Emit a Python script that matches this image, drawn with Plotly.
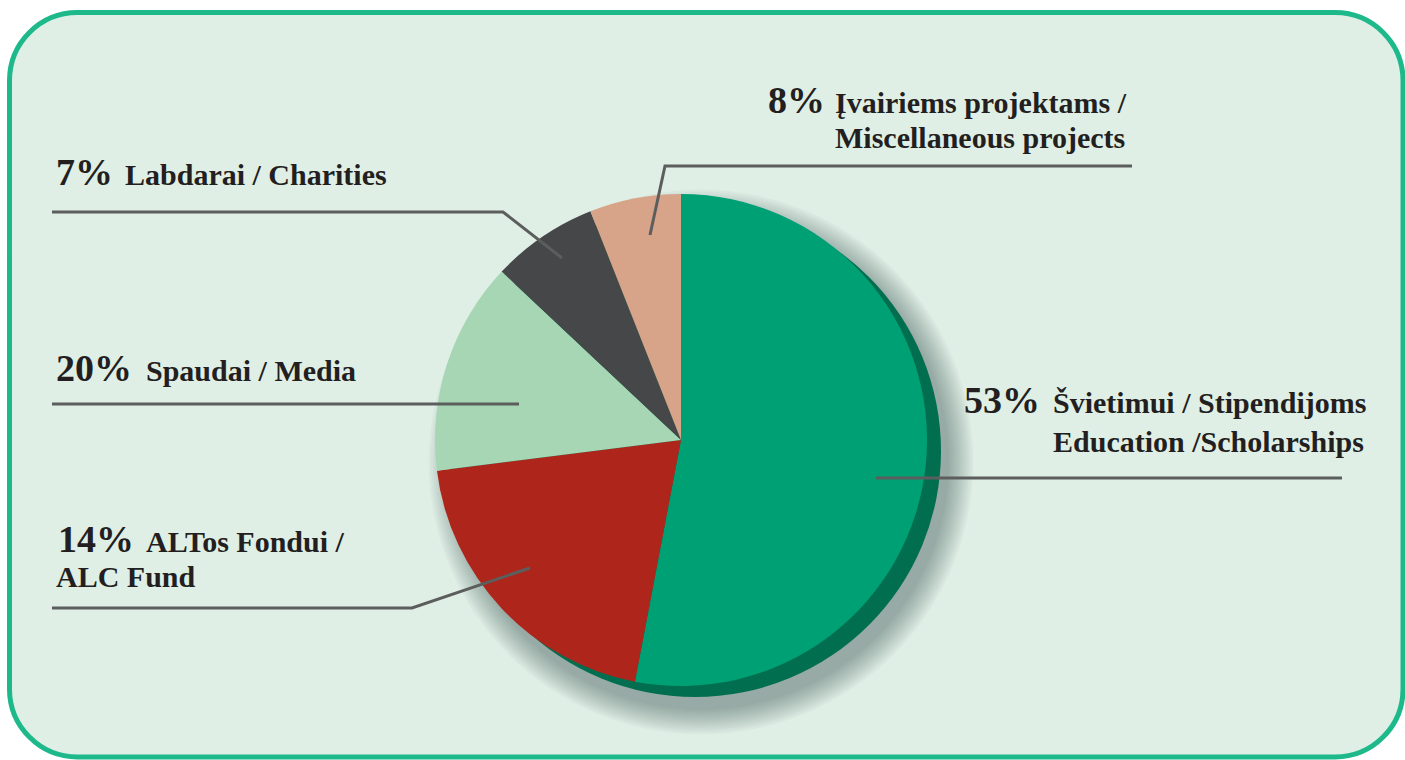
import math
import plotly.graph_objects as go

# ---------------- data ----------------
categories = [
    "Švietimui / Stipendijoms",
    "ALTos Fondui / ALC Fund",
    "Spaudai / Media",
    "Labdarai / Charities",
    "Įvairiems projektams / Miscellaneous projects",
]
slice_values = [53, 20, 14, 7, 6]          # slice sizes as drawn
label_pcts = ["53%", "14%", "20%", "7%", "8%"]   # printed label numbers
label_lines = [
    ["Švietimui / Stipendijoms", "Education /Scholarships"],
    ["ALTos Fondui /", "ALC Fund"],
    ["Spaudai / Media"],
    ["Labdarai / Charities"],
    ["Įvairiems projektams /", "Miscellaneous projects"],
]

# ---------------- style / layout ----------------
slice_colors = ["#00a075", "#ae261b", "#a6d6b3", "#464749", "#d8a489"]
W, H = 1405, 760
CX, CY, R = 681, 440, 246          # pie centre / radius (px)
SH_DX, SH_DY = 14, 11              # dark rim offset
BG = "#e0efe6"
BORDER = "#1db98b"
TEXT = "#231f20"
LINE = "#5c5e5e"
FONT = "Liberation Serif"
PCT_SIZE, TXT_SIZE = 38, 30

# label placement (px): pct x, text x per line, baselines, leader polyline
label_layout = [
    dict(px=963, tx=[1052, 1052], base=[413, 452], leader=[(876, 478), (1342, 478)]),
    dict(px=57, tx=[145, 55], base=[552, 587], leader=[(530, 568), (412, 608), (52, 608)]),
    dict(px=55, tx=[145], base=[381], leader=[(519, 404), (52, 404)]),
    dict(px=55, tx=[124], base=[185], leader=[(562, 258), (503, 212), (52, 212)]),
    dict(px=767, tx=[834, 834], base=[113, 148], leader=[(650, 235), (665, 166), (1132, 166)]),
]


def dom(cx, cy, r):
    return dict(x=[(cx - r) / W, (cx + r) / W], y=[1 - (cy + r) / H, 1 - (cy - r) / H])


fig = go.Figure()

# dark-green rim (offset disc behind the pie)
fig.add_trace(go.Pie(
    values=[1], labels=["rim"], marker=dict(colors=["#006e4f"], line=dict(width=0)),
    textinfo="none", hoverinfo="skip", showlegend=False, sort=False,
    domain=dom(CX + SH_DX, CY + SH_DY, R),
))

# main pie
fig.add_trace(go.Pie(
    values=slice_values, labels=categories,
    marker=dict(colors=slice_colors, line=dict(width=0)),
    textinfo="none", hoverinfo="label+value", showlegend=False,
    sort=False, direction="clockwise", rotation=0,
    domain=dom(CX, CY, R),
))

shapes = []
# rounded panel
x0, y0, x1, y1, rr = 9.5, 12.5, 1403, 757, 68
k = rr * 0.4477
path = (f"M{x0+rr},{y0} L{x1-rr},{y0} C{x1-k},{y0} {x1},{y0+k} {x1},{y0+rr} "
        f"L{x1},{y1-rr} C{x1},{y1-k} {x1-k},{y1} {x1-rr},{y1} "
        f"L{x0+rr},{y1} C{x0+k},{y1} {x0},{y1-k} {x0},{y1-rr} "
        f"L{x0},{y0+rr} C{x0},{y0+k} {x0+k},{y0} {x0+rr},{y0} Z")
shapes.append(dict(type="path", path=path, xref="x", yref="y", layer="below",
                   fillcolor=BG, line=dict(color=BORDER, width=5)))

# soft drop shadow
for i in range(12):
    rad = R + 2 + i * 2.2
    shapes.append(dict(type="circle", xref="x", yref="y", layer="below",
                       x0=CX + 20 - rad, x1=CX + 20 + rad, y0=CY + 22 - rad, y1=CY + 22 + rad,
                       fillcolor="rgba(40,60,50,0.035)", line=dict(width=0)))

# leader lines
for lay in label_layout:
    pts = lay["leader"]
    p = "M" + " L".join(f"{x},{y}" for x, y in pts)
    shapes.append(dict(type="path", path=p, xref="x", yref="y", layer="above",
                       line=dict(color=LINE, width=3)))

annotations = []
for pct, lines, lay in zip(label_pcts, label_lines, label_layout):
    annotations.append(dict(
        x=lay["px"], y=lay["base"][0] - 0.3375 * PCT_SIZE, xref="x", yref="y",
        text=pct, showarrow=False, xanchor="left", yanchor="middle", borderpad=0,
        font=dict(family=FONT, size=PCT_SIZE, color=TEXT, weight="bold")))
    for ln, tx, b in zip(lines, lay["tx"], lay["base"]):
        annotations.append(dict(
            x=tx, y=b - 0.3375 * TXT_SIZE, xref="x", yref="y",
            text=ln, showarrow=False, xanchor="left", yanchor="middle", borderpad=0,
            font=dict(family=FONT, size=TXT_SIZE, color=TEXT, weight="bold")))

fig.update_layout(
    width=W, height=H, margin=dict(l=0, r=0, t=0, b=0),
    paper_bgcolor="white", plot_bgcolor="rgba(0,0,0,0)",
    xaxis=dict(range=[0, W], visible=False, fixedrange=True),
    yaxis=dict(range=[H, 0], visible=False, fixedrange=True),
    shapes=shapes, annotations=annotations, showlegend=False,
)

fig.write_html("out.html", config={"displayModeBar": False},
               post_script="document.body.style.margin='0';document.body.style.overflow='hidden';")
